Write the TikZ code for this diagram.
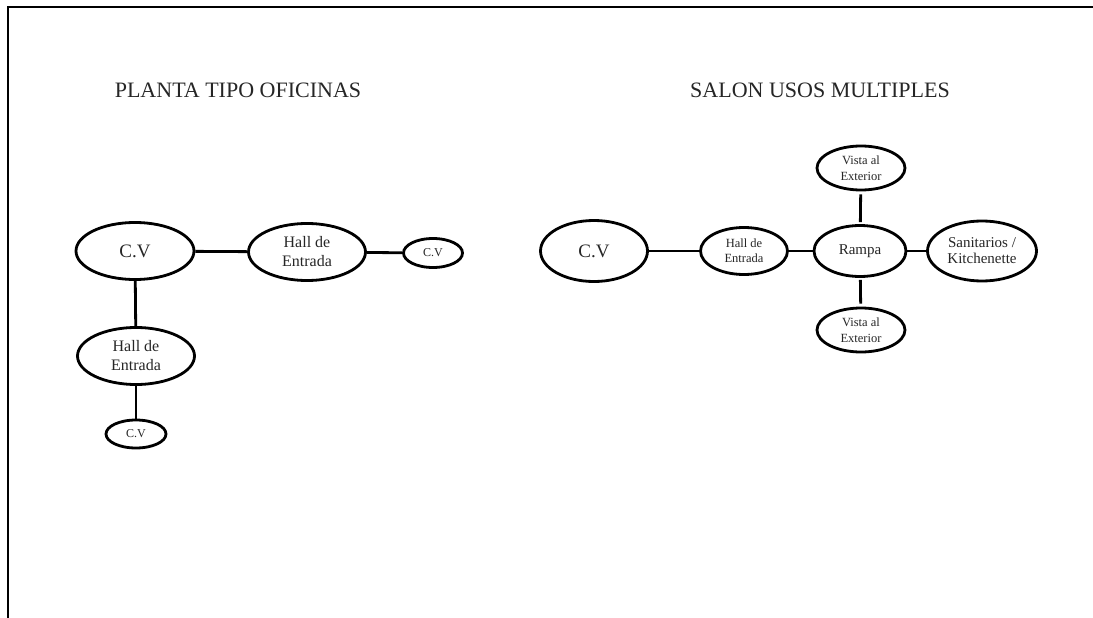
\documentclass[tikz,border=0pt]{standalone}
\usepackage{fontspec}
\setmainfont{Liberation Serif}
\usetikzlibrary{shapes.geometric}
\begin{document}
\begin{tikzpicture}[x=1pt,y=-1pt,
  bub/.style={ellipse,draw=black,line width=2.8pt,inner sep=0pt,align=center,text=black!85},
  link/.style={line width=2.8pt,draw=black},
  ttl/.style={anchor=base,inner sep=0pt,font=\fontsize{22}{24}\selectfont,text=black!85}]
\useasboundingbox (0,0) rectangle (1093,618);
\draw[line width=2.8pt] (8,618) -- (8,7) -- (1093,7);
\node[ttl] (t1) at (238,98) {PLANTA TIPO OFICINAS};
\node[ttl] (t2) at (820,98) {SALON USOS MULTIPLES};
% left diagram
\node[bub,minimum width=118pt,minimum height=57pt,font=\fontsize{19}{21}\selectfont] (cv1) at (135,251) {C.V};
\node[bub,minimum width=117pt,minimum height=57pt,font=\fontsize{16}{19}\selectfont] (h1) at (307,252) {Hall de\\Entrada};
\node[bub,minimum width=59pt,minimum height=29pt,font=\fontsize{12}{13}\selectfont] (cv2) at (433,253) {C.V};
\node[bub,minimum width=117pt,minimum height=57pt,font=\fontsize{16}{19}\selectfont] (h2) at (136,356) {Hall de\\Entrada};
\node[bub,minimum width=60pt,minimum height=28pt,font=\fontsize{12}{13}\selectfont] (cv3) at (136,434) {C.V};
\draw[link] (cv1) -- (h1);
\draw[link] (h1) -- (cv2);
\draw[link] (cv1) -- (h2);
\draw[link] (h2) -- (cv3);
% right diagram
\node[bub,minimum width=107pt,minimum height=61pt,font=\fontsize{19}{21}\selectfont] (cv4) at (594,251) {C.V};
\node[bub,minimum width=87pt,minimum height=47pt,font=\fontsize{12.5}{15}\selectfont] (h3) at (744,251) {Hall de\\Entrada};
\node[bub,minimum width=92pt,minimum height=51pt,font=\fontsize{15}{16}\selectfont] (r) at (860,251) {Rampa};
\node[bub,minimum width=109pt,minimum height=60pt,font=\fontsize{15}{16}\selectfont] (s) at (982,251) {Sanitarios /\\Kitchenette};
\node[bub,minimum width=88pt,minimum height=44pt,font=\fontsize{12.5}{15.5}\selectfont] (v1) at (861,168) {Vista al\\Exterior};
\node[bub,minimum width=88pt,minimum height=44pt,font=\fontsize{12.5}{15.5}\selectfont] (v2) at (861,330) {Vista al\\Exterior};
\draw[link] (cv4) -- (h3);
\draw[link] (h3) -- (r);
\draw[link] (r) -- (s);
\draw[link,shorten <=2pt,shorten >=3pt] (r) -- (v1);
\draw[link,shorten <=2pt,shorten >=3pt] (r) -- (v2);
\end{tikzpicture}
\end{document}
